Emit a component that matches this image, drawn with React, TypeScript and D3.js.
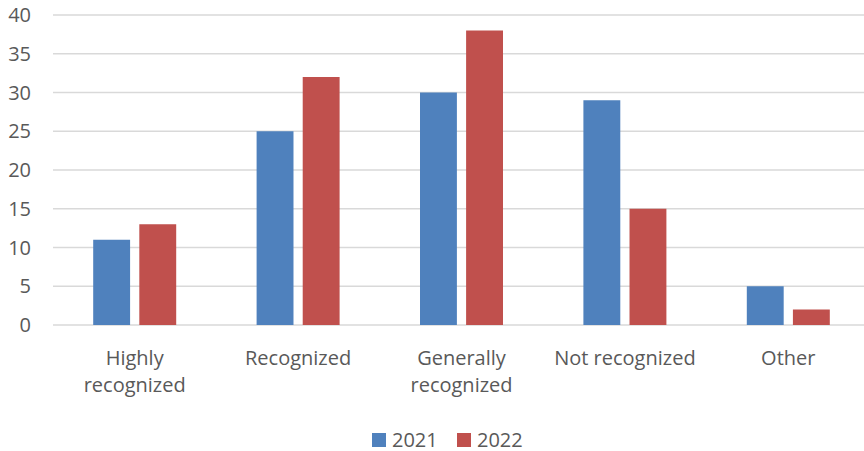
import React from "react";
import * as d3 from "d3";

const categories: string[][] = [
  ["Highly", "recognized"],
  ["Recognized"],
  ["Generally", "recognized"],
  ["Not recognized"],
  ["Other"],
];
const seriesNames = ["2021", "2022"];
const values2021 = [11, 25, 30, 29, 5];
const values2022 = [13, 32, 38, 15, 2];
const yTicks = [0, 5, 10, 15, 20, 25, 30, 35, 40];
const colors = ["#4F81BD", "#C0504D"];

const W = 864;
const H = 451;
// the plot area runs slightly past the right edge of the canvas
const margin = { left: 53, right: -6, top: 15, bottom: 126 };
const FONT = "'Open Sans', 'Liberation Sans', sans-serif";
const TEXT = "#595959";

export default function App() {
  const plotBottom = H - margin.bottom;
  const x = d3
    .scaleBand<number>()
    .domain(d3.range(categories.length))
    .range([margin.left, W - margin.right]);
  const groupW = 83;
  const inner = d3
    .scaleBand<number>()
    .domain([0, 1])
    .range([0, groupW])
    .paddingInner(0.2);
  const y = d3.scaleLinear().domain([0, 40]).range([plotBottom, margin.top]);
  const series = [values2021, values2022];

  return (
    <svg
      width={W}
      height={H}
      style={{ position: "absolute", left: 0, top: 0, background: "#fff" }}
      fontFamily={FONT}
    >
      {yTicks.map((t) => (
        <g key={t}>
          <line
            x1={margin.left}
            x2={W}
            y1={y(t)}
            y2={y(t)}
            stroke="#D9D9D9"
            strokeWidth={1.5}
          />
          <text
            x={31}
            y={y(t)}
            dy="0.35em"
            textAnchor="end"
            fontSize={20}
            fill={TEXT}
          >
            {t}
          </text>
        </g>
      ))}
      {series.map((vals, si) =>
        vals.map((v, ci) => {
          const bx = x(ci)! + x.bandwidth() / 2 - groupW / 2 + inner(si)!;
          return (
            <rect
              key={`${si}-${ci}`}
              x={bx}
              y={y(v)}
              width={inner.bandwidth()}
              height={plotBottom - y(v)}
              fill={colors[si]}
            />
          );
        })
      )}
      {categories.map((lines, ci) => {
        const cx = x(ci)! + x.bandwidth() / 2;
        return (
          <text key={ci} x={cx} y={365} textAnchor="middle" fontSize={20} fill={TEXT}>
            {lines.map((l, li) => (
              <tspan key={li} x={cx} dy={li === 0 ? 0 : 27}>
                {l}
              </tspan>
            ))}
          </text>
        );
      })}
      {seriesNames.map((name, si) => {
        const lx = [372, 457][si];
        return (
          <g key={name}>
            <rect x={lx} y={433} width={14} height={14} fill={colors[si]} />
            <text x={lx + 20} y={447} fontSize={20} fill={TEXT}>
              {name}
            </text>
          </g>
        );
      })}
    </svg>
  );
}
